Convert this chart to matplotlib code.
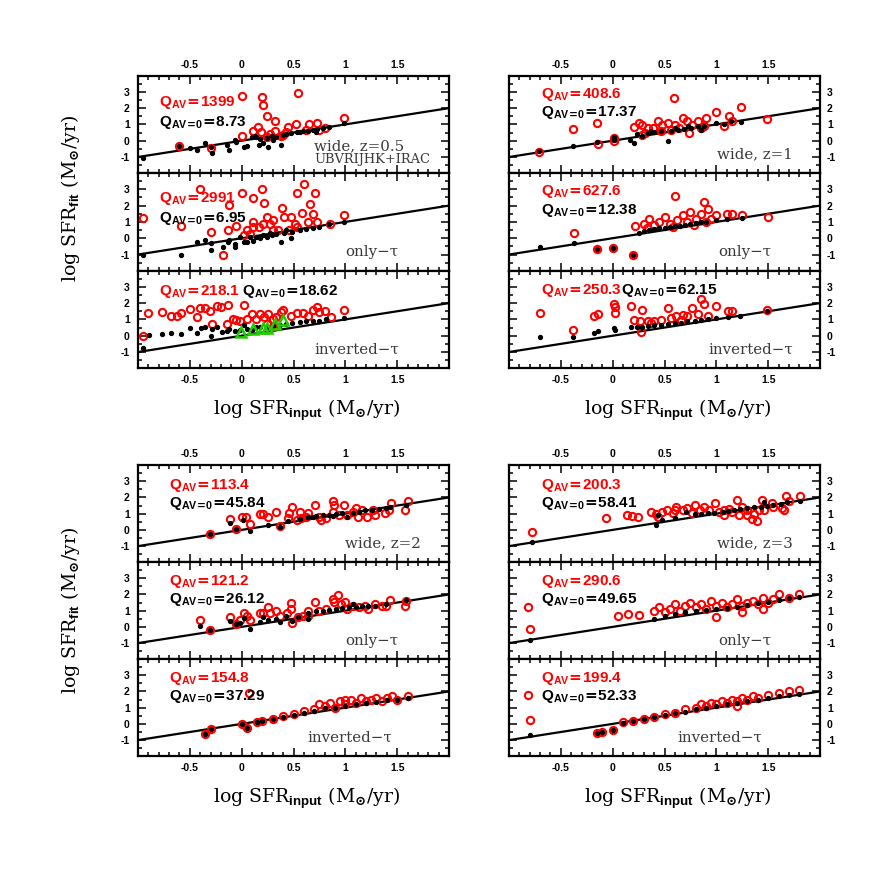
import matplotlib
matplotlib.use('Agg')
import matplotlib.pyplot as plt
from matplotlib.ticker import MultipleLocator

plt.rcParams['font.family'] = 'Liberation Sans'
plt.rcParams['font.weight'] = 'bold'
plt.rcParams['axes.unicode_minus'] = False
plt.rcParams['mathtext.fontset'] = 'custom'
plt.rcParams['mathtext.bf'] = 'Liberation Sans:bold'
plt.rcParams['mathtext.rm'] = 'DejaVu Serif'
plt.rcParams['mathtext.it'] = 'DejaVu Serif:italic'

# values: log SFR_input (x) vs log SFR_fit (y)
# red = fit with A_V free, black = fit with A_V=0

# --- wide, z=0.5 ---
w05_red_x = [-0.60, -0.30, 0.00, 0.00, 0.20, 0.21, 0.24, 0.32, 0.54, 0.11, 0.16, 0.19, 0.27, 0.32, 0.38,
             0.43, 0.45, 0.52, 0.62, 0.65, 0.73, 0.75, 0.80, 0.99, 0.24, 0.40]
w05_red_y = [-0.33, -0.43, 2.73, 0.29, 2.69, 2.19, 1.49, 1.24, 2.94, 0.60, 0.87, 0.56, 0.41, 0.62, 0.29,
             0.54, 0.87, 1.01, 0.66, 1.01, 1.08, 0.66, 0.79, 1.39, 0.25, 0.35]
w05_blk_x = [-0.95, -0.60, -0.50, -0.43, -0.35, -0.30, -0.29, -0.14, -0.12, -0.06, -0.05, 0.02, 0.05, 0.10,
             0.14, 0.17, 0.21, 0.24, 0.25, 0.29, 0.33, 0.38, 0.40, 0.43, 0.48, 0.53, 0.59, 0.64, 0.69, 0.73,
             0.78, 0.84, 0.99, 0.13, 0.18, 0.30, 0.56, 0.72]
w05_blk_y = [-1.04, -0.33, -0.46, -0.54, -0.17, -0.41, -0.75, -0.27, -0.58, 0.04, -0.06, -0.41, -0.33, 0.21,
             0.25, -0.27, -0.17, 0.14, -0.41, 0.29, 0.21, -0.27, 0.35, 0.41, 0.46, 0.56, 0.62, 0.62, 0.66, 0.70,
             0.77, 0.87, 1.08, 0.29, 0.08, 0.04, 0.56, 0.56]

# --- wide, z=1 ---
w1_red_x = [-0.71, -0.38, -0.15, -0.14, 0.01, 0.01, 0.21, 0.25, 0.28, 0.34, 0.39, 0.44, 0.48, 0.53, 0.59,
            0.60, 0.64, 0.68, 0.72, 0.77, 0.82, 0.85, 0.90, 1.00, 1.07, 1.12, 1.15, 1.24, 1.49, 0.31, 0.47,
            0.56, 0.74, 0.88, 0.28]
w1_red_y = [-0.70, 0.72, 1.09, -0.21, 0.16, -0.04, 0.85, 1.09, 0.99, 0.78, 0.78, 1.20, 0.99, 1.09, 2.64,
            0.99, 0.78, 1.40, 1.20, 0.99, 1.20, 0.78, 1.40, 1.75, 0.89, 1.51, 1.24, 2.06, 1.34, 0.47, 0.58,
            0.68, 0.47, 0.89, 0.37]
w1_blk_x = [-0.71, -0.38, -0.15, 0.01, 0.01, 0.17, 0.21, 0.23, 0.28, 0.34, 0.40, 0.47, 0.53, 0.56, 0.63,
            0.69, 0.76, 0.82, 0.88, 1.00, 1.07, 1.14, 1.24, 0.37, 0.60, 0.73, 0.85]
w1_blk_y = [-0.66, -0.31, -0.10, 0.23, 0.06, 0.06, -0.14, 0.43, 0.31, 0.47, 0.52, 0.58, 0.00, 0.62, 0.68,
            0.72, 0.78, 0.89, 0.93, 1.09, 1.05, 1.20, 1.15, 0.58, 0.78, 0.89, 0.68]

# --- only-tau, z=0.5 ---
o05_red_x = [-0.95, -0.59, -0.40, -0.30, -0.18, -0.13, -0.12, -0.05, 0.00, 0.05, 0.11, 0.20, 0.22, 0.02,
             0.08, 0.11, 0.17, 0.21, 0.24, 0.27, 0.30, 0.35, 0.39, 0.41, 0.48, 0.51, 0.53, 0.58, 0.60, 0.66,
             0.69, 0.71, 0.64, 0.73, 0.85, 0.99, 0.53, 0.46, 0.30, 0.11]
o05_red_y = [1.24, 0.72, 3.00, 0.37, -1.01, 0.48, 2.03, 0.72, 2.75, 0.48, 2.48, 3.00, 2.17, 0.17,
             0.27, 0.99, 0.68, 0.89, 1.30, 0.89, 1.10, 0.48, 1.88, 1.30, 1.30, 0.89, 2.75, 1.55, 3.33, 2.09,
             1.47, 2.75, 0.99, 0.99, 0.89, 1.41, 0.68, 0.48, 0.48, 0.68]
o05_blk_x = [-0.95, -0.59, -0.43, -0.35, -0.30, -0.30, -0.18, -0.13, -0.12, -0.06, -0.06, -0.02, 0.02, 0.05,
             0.08, 0.11, 0.14, 0.18, 0.21, 0.24, 0.29, 0.33, 0.38, 0.41, 0.48, 0.49, 0.56, 0.62, 0.69, 0.75,
             0.84, 0.99, 0.43, 0.27]
o05_blk_y = [-1.01, -1.01, -0.21, -0.10, -0.31, -0.72, -0.56, -0.25, -0.10, -0.35, -0.52, 0.06, -0.25, -0.25,
             0.06, -0.14, 0.10, 0.02, 0.17, 0.06, 0.17, 0.27, -0.25, 0.31, 0.02, 0.37, 0.52, 0.58, 0.64, 0.68,
             0.89, 0.99, 0.48, 0.31]

# --- only-tau, z=1 ---
o1_red_x = [-0.37, -0.15, 0.00, 0.20, 0.22, 0.30, 0.35, 0.40, 0.45, 0.50, 0.55, 0.60, 0.62, 0.68, 0.72,
            0.75, 0.80, 0.85, 0.88, 0.90, 0.92, 1.00, 1.10, 1.15, 1.25, 1.50, 0.33, 0.58, 0.78, 0.95]
o1_red_y = [0.35, -0.65, -0.60, -1.05, 0.75, 0.90, 1.20, 0.80, 1.00, 1.30, 0.90, 2.60, 1.10, 1.40, 1.00,
            1.60, 1.20, 1.50, 2.20, 1.00, 1.80, 1.40, 1.50, 1.50, 1.40, 1.30, 0.60, 0.70, 0.80, 1.20]
o1_blk_x = [-0.70, -0.37, -0.15, 0.00, 0.20, 0.25, 0.30, 0.35, 0.40, 0.45, 0.50, 0.55, 0.60, 0.65, 0.70,
            0.75, 0.80, 0.85, 0.90, 1.00, 1.10, 1.25]
o1_blk_y = [-0.55, -0.30, -0.65, -0.60, -1.05, 0.35, 0.45, 0.50, 0.55, 0.60, 0.65, 0.70, 0.72, 0.78, 0.82,
            0.88, 0.92, 0.98, 1.00, 1.10, 1.15, 1.25]

# --- inverted-tau, z=0.5 ---
i05_red_x = [-0.95, -0.90, -0.77, -0.68, -0.62, -0.59, -0.50, -0.43, -0.40, -0.35, -0.31, -0.29, -0.24,
             -0.20, -0.13, -0.14, -0.08, -0.05, 0.02, -0.02, 0.05, 0.10, 0.14, 0.18, 0.22, 0.25, 0.30, 0.33,
             0.38, 0.40, 0.48, 0.53, 0.59, 0.64, 0.69, 0.73, 0.75, 0.80, 0.86, 0.99, 0.30, 0.24]
i05_red_y = [-0.04, 1.41, 1.45, 1.18, 1.24, 1.41, 1.66, 1.14, 1.70, 1.70, 1.51, 0.72, 1.80,
             1.76, 1.86, 0.72, 1.04, 0.97, 1.86, 0.93, 1.04, 1.35, 1.04, 1.35, 1.14, 1.35, 1.04, 1.14,
             1.45, 1.59, 1.24, 1.39, 1.41, 1.24, 1.55, 1.76, 1.45, 1.51, 1.14, 1.59, 0.52, 0.72]
i05_blk_x = [-0.95, -0.89, -0.77, -0.68, -0.59, -0.50, -0.43, -0.39, -0.35, -0.29, -0.30, -0.24, -0.19,
             -0.14, -0.12, -0.06, -0.02, 0.02, 0.05, 0.10, 0.14, 0.18, 0.24, 0.30, 0.37, 0.43, 0.49, 0.56,
             0.62, 0.69, 0.75, 0.81, 0.99]
i05_blk_y = [-0.77, 0.06, 0.10, 0.19, 0.10, 0.46, 0.14, 0.48, 0.52, 0.41, 0.00, 0.52, 0.21,
             0.31, 0.41, 0.31, 0.35, 0.68, 0.41, 0.35, 0.52, 0.56, 0.52, 0.62, 0.68, 0.72, 0.77, 0.83,
             0.89, 0.93, 0.93, 1.04, 1.08]
i05_grn_x = [-0.01, 0.11, 0.21, 0.24, 0.32, 0.40]
i05_grn_y = [0.25, 0.41, 0.48, 0.48, 0.72, 0.97]

# --- inverted-tau, z=1 ---
i1_red_x = [-0.70, -0.38, -0.18, -0.14, 0.01, 0.02, 0.02, 0.18, 0.28, 0.21, 0.26, 0.27, 0.34, 0.40, 0.47,
            0.53, 0.56, 0.61, 0.68, 0.72, 0.77, 0.82, 0.85, 0.88, 0.92, 1.00, 1.11, 1.15, 1.49, 0.37, 0.66]
i1_red_y = [1.40, 0.35, 1.23, 1.35, 1.96, 1.75, 1.40, 1.85, 1.56, 0.98, 0.88, 0.25, 0.88, 0.88, 0.98,
            1.67, 1.08, 1.23, 1.29, 1.19, 1.71, 1.35, 2.23, 1.92, 1.19, 1.81, 1.50, 1.50, 1.60, 0.77, 0.98]
i1_blk_x = [-0.70, -0.38, -0.18, -0.14, 0.01, 0.02, 0.18, 0.23, 0.28, 0.34, 0.40, 0.47, 0.53, 0.60, 0.66,
            0.72, 0.79, 0.85, 0.92, 1.00, 1.11, 1.23, 1.49]
i1_blk_y = [-0.10, -0.10, 0.19, 0.29, 0.46, 0.35, 0.56, 0.56, 0.56, 0.60, 0.63, 0.67, 0.71, 0.77, 0.81,
            0.88, 0.92, 0.98, 1.02, 1.08, 1.13, 1.19, 1.50]

# --- wide, z=2 ---
w2_red_x = [-0.31, -0.11, -0.05, 0.00, 0.04, 0.08, 0.18, 0.21, 0.25, 0.33, 0.37, 0.45, 0.46, 0.49, 0.53,
            0.57, 0.62, 0.64, 0.71, 0.75, 0.77, 0.81, 0.88, 0.88, 0.89, 0.94, 0.99, 1.02, 1.07, 1.12, 1.16,
            1.21, 1.27, 1.29, 1.38, 1.42, 1.44, 1.58, 1.60, 0.56, 1.10]
w2_red_y = [-0.25, 0.68, 0.06, 0.78, 0.78, 0.37, 0.99, 0.99, 0.78, 1.13, 0.21, 0.72, 1.07, 1.38, 0.62,
            0.72, 0.78, 1.07, 1.53, 0.82, 0.62, 0.72, 1.13, 1.75, 1.55, 0.93, 1.55, 0.93, 1.13, 0.82, 1.24,
            0.78, 1.24, 0.93, 1.07, 1.20, 1.65, 1.24, 1.75, 1.13, 1.34]
w2_blk_x = [-0.31, -0.11, -0.05, 0.01, 0.08, 0.25, 0.37, 0.45, 0.56, 0.64, 0.72, 0.78, 0.84, 0.91, 0.97,
            1.02, 1.07, 1.13, 1.19, 1.26, 1.32, 1.39, 1.43, 1.59, 0.88, 0.69]
w2_blk_y = [-0.25, 0.45, 0.06, 0.62, -0.04, 0.31, 0.16, 0.52, 0.66, 0.78, 0.87, 0.93, 0.93, 0.99, 1.03,
            0.78, 1.07, 1.13, 1.20, 1.24, 1.28, 1.34, 1.44, 1.55, 0.87, 0.78]

# --- wide, z=3 ---
w3_red_x = [-0.78, -0.06, 0.14, 0.19, 0.24, 0.37, 0.42, 0.44, 0.48, 0.52, 0.58, 0.60, 0.61, 0.68, 0.72,
            0.77, 0.79, 0.84, 0.88, 0.93, 0.99, 1.03, 1.07, 1.12, 1.15, 1.20, 1.22, 1.25, 1.30, 1.34, 1.36,
            1.39, 1.41, 1.44, 1.46, 1.54, 1.55, 1.63, 1.65, 1.67, 1.70, 1.81, 1.07, 1.30]
w3_red_y = [-0.16, 0.72, 0.93, 0.87, 0.82, 1.13, 0.99, 0.78, 1.13, 1.20, 1.07, 1.24, 1.38, 1.24, 1.34,
            1.03, 1.55, 1.24, 1.44, 1.24, 1.65, 1.13, 1.24, 1.28, 1.13, 1.86, 0.93, 1.44, 1.24, 0.66, 0.99,
            0.56, 1.20, 1.86, 1.24, 1.65, 1.44, 1.34, 1.24, 2.10, 1.75, 2.06, 0.93, 0.93]
w3_blk_x = [-0.78, 0.42, 0.48, 0.60, 0.71, 0.79, 0.85, 0.92, 0.98, 1.06, 1.11, 1.17, 1.23, 1.30, 1.36,
            1.43, 1.49, 1.55, 1.62, 1.68, 1.81, 0.44, 1.46]
w3_blk_y = [-0.72, 0.31, 0.58, 0.72, 1.13, 0.99, 0.99, 1.03, 1.07, 1.13, 1.18, 1.24, 1.28, 1.34, 1.40,
            1.44, 1.48, 1.55, 1.61, 1.69, 1.75, 0.93, 1.69]

# --- only-tau, z=2 ---
o2_red_x = [-0.40, -0.31, -0.11, -0.05, -0.02, 0.02, 0.05, 0.08, 0.18, 0.21, 0.25, 0.27, 0.33, 0.37, 0.44,
            0.48, 0.48, 0.49, 0.54, 0.59, 0.64, 0.64, 0.71, 0.75, 0.81, 0.88, 0.89, 0.93, 0.96, 1.00, 1.02,
            1.07, 1.13, 1.19, 1.22, 1.29, 1.35, 1.39, 1.43, 1.58, 1.59]
o2_red_y = [0.41, -0.21, 0.64, 0.17, 0.43, 0.85, 0.68, 0.43, 0.85, 0.85, 1.20, 0.85, 0.99, 0.68, 0.85,
            1.10, 1.45, 0.23, 0.58, 0.68, 0.99, 0.68, 1.55, 0.99, 1.10, 1.71, 1.55, 1.96, 1.40, 1.55, 1.10,
            1.30, 1.20, 1.30, 1.10, 1.40, 1.26, 1.30, 1.67, 1.30, 1.61]
o2_blk_x = [-0.40, -0.31, -0.11, -0.05, -0.02, 0.02, 0.08, 0.18, 0.21, 0.25, 0.33, 0.37, 0.43, 0.49, 0.54,
            0.64, 0.64, 0.72, 0.78, 0.84, 0.91, 0.97, 1.04, 1.10, 1.16, 1.22, 1.29, 1.39, 1.59, 1.07]
o2_blk_y = [0.06, -0.21, 0.35, 0.17, 0.27, 0.52, -0.14, 0.31, 0.64, 0.41, 0.48, 0.31, 0.68, 0.37, 0.58,
            0.48, 0.85, 0.99, 0.99, 1.05, 1.10, 1.14, 1.20, 1.24, 1.26, 1.30, 1.30, 1.40, 1.67, 1.40]

# --- only-tau, z=3 ---
o3_red_x = [-0.82, -0.80, 0.05, 0.15, 0.25, 0.40, 0.45, 0.50, 0.55, 0.60, 0.65, 0.70, 0.75, 0.80, 0.85,
            0.90, 0.95, 1.00, 1.05, 1.10, 1.15, 1.20, 1.25, 1.30, 1.35, 1.40, 1.45, 1.50, 1.55, 1.60, 1.70,
            1.80, 1.00, 1.25, 1.45]
o3_red_y = [1.25, -0.10, 0.70, 0.80, 0.75, 1.00, 1.20, 0.90, 1.10, 1.40, 1.00, 1.30, 1.50, 1.20, 1.40,
            1.10, 1.60, 1.30, 1.50, 1.20, 1.40, 1.70, 1.30, 1.50, 1.60, 1.40, 1.80, 1.50, 1.70, 2.00, 1.80,
            2.00, 0.60, 0.90, 1.10]
o3_blk_x = [-0.80, 0.40, 0.50, 0.60, 0.70, 0.80, 0.90, 1.00, 1.10, 1.20, 1.30, 1.40, 1.50, 1.60, 1.70, 1.80]
o3_blk_y = [-0.80, 0.50, 0.70, 0.80, 0.90, 1.00, 1.05, 1.10, 1.15, 1.25, 1.35, 1.45, 1.55, 1.65, 1.75, 1.85]

# --- inverted-tau, z=2 ---
i2_red_x = [-0.35, -0.30, 0.00, 0.05, 0.07, 0.15, 0.20, 0.30, 0.40, 0.50, 0.60, 0.70, 0.80, 0.85, 0.90,
            0.95, 1.00, 1.05, 1.10, 1.15, 1.20, 1.25, 1.30, 1.35, 1.40, 1.45, 1.50, 1.60, 0.75, 1.00]
i2_red_y = [-0.60, -0.30, 0.00, -0.25, 1.93, 0.10, 0.20, 0.30, 0.50, 0.60, 0.80, 0.90, 1.10, 1.30, 1.00,
            1.40, 1.20, 1.50, 1.30, 1.60, 1.40, 1.50, 1.60, 1.40, 1.60, 1.70, 1.50, 1.70, 1.20, 1.50]
i2_blk_x = [-0.35, -0.30, 0.00, 0.05, 0.15, 0.20, 0.30, 0.40, 0.50, 0.60, 0.70, 0.80, 0.90, 1.00, 1.10,
            1.20, 1.30, 1.40, 1.50, 1.60]
i2_blk_y = [-0.60, -0.30, 0.00, -0.25, 0.10, 0.20, 0.30, 0.45, 0.55, 0.70, 0.80, 0.95, 1.00, 1.10, 1.20,
            1.30, 1.35, 1.45, 1.50, 1.60]

# --- inverted-tau, z=3 ---
i3_red_x = [-0.82, -0.80, -0.15, -0.10, 0.00, 0.10, 0.20, 0.30, 0.40, 0.50, 0.60, 0.70, 0.80, 0.85, 0.90,
            0.95, 1.00, 1.05, 1.10, 1.15, 1.20, 1.25, 1.30, 1.35, 1.40, 1.50, 1.60, 1.70, 1.80, 1.20]
i3_red_y = [1.80, 0.25, -0.55, -0.50, -0.40, 0.10, 0.20, 0.30, 0.40, 0.60, 0.70, 0.90, 1.00, 1.20, 1.10,
            1.30, 1.20, 1.40, 1.30, 1.50, 1.40, 1.60, 1.50, 1.70, 1.60, 1.80, 1.90, 2.00, 2.10, 1.10]
i3_blk_x = [-0.80, -0.15, -0.10, 0.00, 0.10, 0.20, 0.30, 0.40, 0.50, 0.60, 0.70, 0.80, 0.90, 1.00, 1.10,
            1.20, 1.30, 1.40, 1.50, 1.60, 1.70, 1.80]
i3_blk_y = [-0.67, -0.55, -0.50, -0.40, 0.05, 0.20, 0.30, 0.40, 0.55, 0.65, 0.75, 0.90, 1.00, 1.10, 1.20,
            1.30, 1.40, 1.50, 1.60, 1.70, 1.80, 1.85]

q_av = ['1399', '408.6', '2991', '627.6', '218.1', '250.3',
        '113.4', '200.3', '121.2', '290.6', '154.8', '199.4']
q_av0 = ['8.73', '17.37', '6.95', '12.38', '18.62', '62.15',
         '45.84', '58.41', '26.12', '49.65', '37.29', '52.33']
labels = ['wide, z=0.5', 'wide, z=1', 'only\u2212τ', 'only\u2212τ', 'inverted\u2212τ', 'inverted\u2212τ',
          'wide, z=2', 'wide, z=3', 'only\u2212τ', 'only\u2212τ', 'inverted\u2212τ', 'inverted\u2212τ']

red_sets = [(w05_red_x, w05_red_y), (w1_red_x, w1_red_y), (o05_red_x, o05_red_y), (o1_red_x, o1_red_y),
            (i05_red_x, i05_red_y), (i1_red_x, i1_red_y), (w2_red_x, w2_red_y), (w3_red_x, w3_red_y),
            (o2_red_x, o2_red_y), (o3_red_x, o3_red_y), (i2_red_x, i2_red_y), (i3_red_x, i3_red_y)]
blk_sets = [(w05_blk_x, w05_blk_y), (w1_blk_x, w1_blk_y), (o05_blk_x, o05_blk_y), (o1_blk_x, o1_blk_y),
            (i05_blk_x, i05_blk_y), (i1_blk_x, i1_blk_y), (w2_blk_x, w2_blk_y), (w3_blk_x, w3_blk_y),
            (o2_blk_x, o2_blk_y), (o3_blk_x, o3_blk_y), (i2_blk_x, i2_blk_y), (i3_blk_x, i3_blk_y)]

W = 894.0
col_left = [138 / W, 509 / W]
col_width = 311 / W
block_top = [75.5, 465]
panel_h = [97.5, 97.0]

# where the Q texts and the panel labels go (data coords)
q_pos = [(-0.80, 2.32, -0.80, 1.12), (-0.69, 2.85, -0.69, 1.71),
         (-0.80, 2.44, -0.80, 1.20), (-0.69, 2.85, -0.69, 1.71),
         (-0.80, 2.69, 0.00, 2.69), (-0.69, 2.75, 0.08, 2.75),
         (-0.70, 2.72, -0.70, 1.65), (-0.69, 2.72, -0.69, 1.65),
         (-0.70, 2.79, -0.70, 1.67), (-0.69, 2.79, -0.69, 1.67),
         (-0.70, 2.79, -0.70, 1.67), (-0.69, 2.79, -0.69, 1.67)]
lab_x = [0.70, 1.01, 1.00, 1.02, 0.70, 0.92, 1.00, 1.01, 1.00, 1.02, 0.63, 0.62]
lab_y = [-0.33, -0.85, -0.85, -0.85, -0.85, -0.85, -0.85, -0.85, -0.85, -0.85, -0.85, -0.85]

fig = plt.figure(figsize=(8.94, 8.94), dpi=100)

for k in range(12):
    block = k // 6
    row = (k % 6) // 2
    col = k % 2
    top = block_top[block] + panel_h[block] * row
    ax = fig.add_axes([col_left[col], 1 - (top + panel_h[block]) / W, col_width, panel_h[block] / W])
    ax.set_xlim(-1, 2)
    ax.set_ylim(-1.98, 4.0)

    ax.plot([-1, 2], [-1, 2], color='black', lw=1.6, zorder=2)
    rx, ry = red_sets[k]
    bx, by = blk_sets[k]
    ax.plot(rx, ry, 'o', ms=5.2, mfc='none', mec='red', mew=1.5, zorder=3)
    ax.plot(bx, by, 'o', ms=2.8, color='black', zorder=4)
    if k == 4:
        ax.plot(i05_grn_x, i05_grn_y, '^', ms=7, mfc='none', mec='#22cc00', mew=1.8, zorder=5)

    qx, qy, q0x, q0y = q_pos[k]
    ax.text(qx, qy, r'$\mathbf{Q}_{\mathbf{AV}}\!=\!\mathbf{%s}$' % q_av[k], color='red',
            fontsize=11, va='center')
    ax.text(q0x, q0y, r'$\mathbf{Q}_{\mathbf{AV}\!=\!\mathbf{0}}\!=\!\mathbf{%s}$' % q_av0[k],
            color='black', fontsize=11, va='center')
    ax.text(lab_x[k], lab_y[k], labels[k], family='DejaVu Serif', fontweight='normal', fontsize=10.8,
            color='#3a3a3a', va='center')
    if k == 0:
        ax.text(lab_x[k], -1.16, 'UBVRIJHK+IRAC', family='DejaVu Serif', fontweight='normal',
                fontsize=9.4, color='#3a3a3a', va='center')

    # ticks on all sides, pointing in
    ax.xaxis.set_minor_locator(MultipleLocator(0.1))
    ax.set_yticks([-1, 0, 1, 2, 3])
    ax.yaxis.set_minor_locator(MultipleLocator(0.5))
    ax.tick_params(which='both', direction='in', top=True, bottom=True, left=True, right=True,
                   width=1.1, labelsize=7.5)
    ax.tick_params(which='major', length=6)
    ax.tick_params(which='minor', length=3)
    for s in ax.spines.values():
        s.set_linewidth(1.6)

    xt = [-0.5, 0, 0.5, 1, 1.5]
    xl = ['-0.5', '0', '0.5', '1', '1.5']
    ax.set_xticks(xt)
    if row == 0:
        ax.set_xticklabels(xl)
        ax.tick_params(axis='x', labeltop=True, labelbottom=False, pad=4)
    elif row == 2:
        ax.set_xticklabels(xl)
        ax.tick_params(axis='x', labeltop=False, labelbottom=True, pad=5)
    else:
        ax.set_xticklabels([])
    ax.set_yticklabels(['-1', '0', '1', '2', '3'])
    if col == 1:
        ax.tick_params(axis='y', labelleft=False, labelright=True, pad=5)
    else:
        ax.tick_params(axis='y', pad=6)

# axis titles
for block in range(2):
    yb = block_top[block] + 3 * panel_h[block]
    for col in range(2):
        xc = col_left[col] + col_width / 2
        fig.text(xc + 0.015, 1 - (yb + 42) / W, 'log SFR$_{\\mathbf{input}}$ (M$_{\u2299}$/yr)',
                 family='DejaVu Serif', fontweight='normal', fontsize=13.6, ha='center', va='center')
    fig.text(70 / W, 1 - [198, 610][block] / W, 'log SFR$_{\\mathbf{fit}}$ (M$_{\u2299}$/yr)',
             family='DejaVu Serif', fontweight='normal', fontsize=13.6, ha='center', va='center',
             rotation=90)

fig.savefig('out.png', dpi=100)
